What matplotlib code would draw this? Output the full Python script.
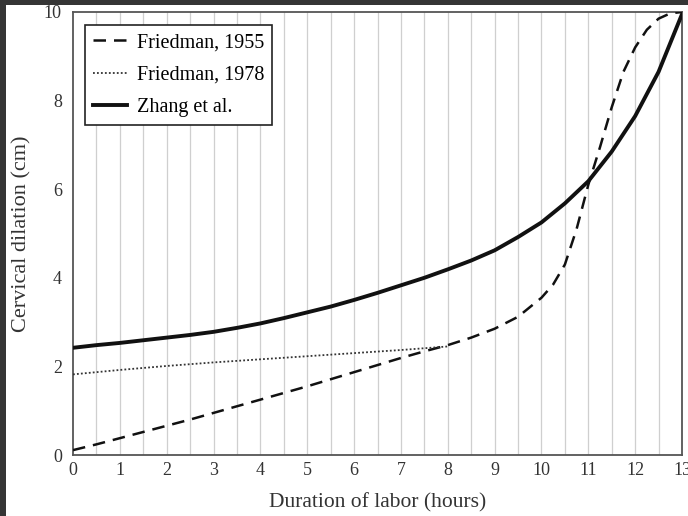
import matplotlib.pyplot as plt
from matplotlib.patches import Rectangle

# Данные
hours = [i * 0.5 for i in range(27)]
zhang = [2.42, 2.48, 2.53, 2.59, 2.65, 2.71, 2.78, 2.87, 2.97, 3.09, 3.22, 3.35,
         3.50, 3.66, 3.83, 4.00, 4.19, 4.39, 4.62, 4.92, 5.25, 5.68, 6.18, 6.85,
         7.65, 8.65, 9.95]

f1978_hours = [0, 1, 2, 3, 4, 5, 6, 7, 8]
f1978 = [1.82, 1.92, 2.01, 2.09, 2.16, 2.23, 2.30, 2.37, 2.45]

f1955_hours = [0, 0.5, 1, 1.5, 2, 2.5, 3, 3.5, 4, 4.5, 5, 5.5, 6, 6.5, 7, 7.5, 8,
               8.5, 9, 9.5, 10, 10.25, 10.5, 10.75, 11, 11.25, 11.5, 11.75, 12,
               12.25, 12.5, 12.75, 13]
f1955 = [0.11, 0.24, 0.38, 0.52, 0.66, 0.80, 0.95, 1.10, 1.25, 1.40, 1.55, 1.71,
         1.87, 2.03, 2.19, 2.34, 2.48, 2.65, 2.85, 3.12, 3.55, 3.85, 4.3, 5.1,
         6.1, 6.95, 7.85, 8.65, 9.2, 9.6, 9.85, 9.97, 10.0]

x_ticks = list(range(14))
y_ticks = [0, 2, 4, 6, 8, 10]

plt.rcParams['font.family'] = ['Liberation Serif', 'DejaVu Serif']

fig = plt.figure(figsize=(6.88, 5.16), dpi=100, facecolor='#353535')
# белое поле внутри тёмной рамки
fig.patches.append(Rectangle((6 / 688, 0), 1, (516 - 5) / 516,
                             transform=fig.transFigure, facecolor='white',
                             edgecolor='none', zorder=-10))
ax = fig.add_axes([73 / 688, (516 - 455) / 516, (682 - 73) / 688, (455 - 12) / 516])
ax.set_zorder(1)

# вертикальная сетка через полчаса
for h in hours[1:-1]:
    ax.axvline(h, color='#cfcfcf', linewidth=0.9, zorder=1)

ax.plot(f1955_hours, f1955, color='#111111', linewidth=1.8,
        dashes=(5, 3.2), label='Friedman, 1955', zorder=3)
ax.plot(f1978_hours, f1978, color='#333333', linewidth=1.3,
        linestyle=(0, (1, 1.2)), label='Friedman, 1978', zorder=3)
ax.plot(hours, zhang, color='#111111', linewidth=2.8, label='Zhang et al.', zorder=4)

ax.set_xlim(0, 13)
ax.set_ylim(0, 10)
ax.set_xticks(x_ticks)
ax.set_yticks(y_ticks)
ax.tick_params(axis='both', length=0, labelsize=13, colors='#333333')
ax.tick_params(axis='x', pad=5)
ax.tick_params(axis='y', pad=8)
for s in ax.spines.values():
    s.set_color('#555555')
    s.set_linewidth(1.3)

ax.set_xlabel('Duration of labor (hours)', fontsize=15.5, color='#333333', labelpad=10)
ax.set_ylabel('Cervical dilation (cm)', fontsize=16, color='#333333', labelpad=9)

leg = ax.legend(loc='upper left', fontsize=14.5, fancybox=False, framealpha=1,
                edgecolor='#222222', handlelength=1.7, handletextpad=0.5,
                borderpad=0.4, labelspacing=0.65, borderaxespad=0,
                bbox_to_anchor=(0.019, 0.97))
leg.get_frame().set_linewidth(1.2)

plt.savefig('out.png', dpi=100, facecolor=fig.get_facecolor())
